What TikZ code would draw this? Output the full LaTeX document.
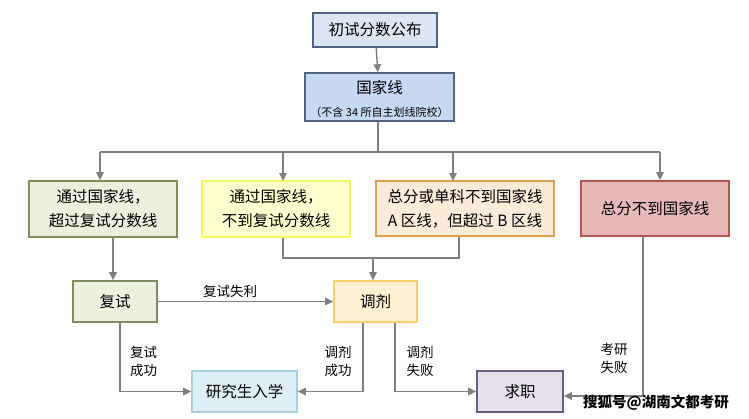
\documentclass[tikz,border=0pt]{standalone}
\usepackage{fontspec}
\setmainfont{Noto Sans CJK SC}
\usetikzlibrary{arrows.meta}
\definecolor{arrowgray}{HTML}{7F7F7F}
\definecolor{blueD}{HTML}{4F6584}
\definecolor{blueF1}{HTML}{DCE6F2}
\definecolor{blueF2}{HTML}{C6D9F1}
\definecolor{greenD}{HTML}{7F8C5C}
\definecolor{greenF}{HTML}{EBF1DE}
\definecolor{yelD}{HTML}{F7F75E}
\definecolor{yelF}{HTML}{FFFFD0}
\definecolor{orD}{HTML}{E0A050}
\definecolor{orF}{HTML}{FDEBDA}
\definecolor{redD}{HTML}{B85450}
\definecolor{redF}{HTML}{E6B9B8}
\definecolor{tjD}{HTML}{F2D06A}
\definecolor{tjF}{HTML}{FDEFD2}
\definecolor{yjD}{HTML}{A9CFDC}
\definecolor{yjF}{HTML}{DDEEF5}
\definecolor{qzD}{HTML}{6A5F80}
\definecolor{qzF}{HTML}{E5E0EC}
\tikzset{
  x=1pt, y=-1pt,
  box/.style={draw, line width=1.6pt, inner sep=0pt, align=center,
    font=\fontsize{15.5}{24}\selectfont},
  arr/.style={draw=arrowgray, line width=1.4pt, -{Triangle[length=8pt,width=7.5pt]}},
  ln/.style={draw=arrowgray, line width=1.4pt},
  lbl/.style={font=\fontsize{13.5}{18}\selectfont, align=center, inner sep=0pt},
}
\begin{document}
\begin{tikzpicture}
\useasboundingbox (0,0) rectangle (749,418);
% boxes
\node[box, draw=blueD, fill=blueF1, minimum width=124pt, minimum height=34pt] (n1) at (375,30) {初试分数公布};
\node[box, draw=blueD, fill=blueF2, minimum width=149pt, minimum height=48pt] (n2) at (379.5,97) {};
\node[lbl, font=\fontsize{15.5}{18}\selectfont] (n2a) at (379.5,88) {国家线};
\node[lbl, font=\fontsize{11}{12}\selectfont] (n2b) at (379.5,112) {（不含 34 所自主划线院校）};
\node[box, draw=greenD, fill=greenF, minimum width=148pt, minimum height=56pt] (g1) at (103,209) {通过国家线，\\超过复试分数线};
\node[box, draw=yelD, fill=yelF, minimum width=148pt, minimum height=56pt] (y1) at (276,209) {通过国家线，\\不到复试分数线};
\node[box, draw=orD, fill=orF, minimum width=178pt, minimum height=55pt] (o1) at (465,208.5) {总分或单科不到国家线\\A 区线，但超过 B 区线};
\node[box, draw=redD, fill=redF, minimum width=148pt, minimum height=55pt] (r1) at (655,208.5) {总分不到国家线};
\node[box, draw=greenD, fill=greenF, minimum width=84pt, minimum height=41pt] (fs) at (115,301.5) {复试};
\node[box, draw=tjD, fill=tjF, minimum width=83pt, minimum height=41pt] (tj) at (375.5,301.5) {调剂};
\node[box, draw=yjD, fill=yjF, minimum width=105pt, minimum height=41pt] (yj) at (244.5,391.5) {研究生入学};
\node[box, draw=qzD, fill=qzF, minimum width=86pt, minimum height=41pt] (qz) at (520,391.5) {求职};
% top connectors
\coordinate (bm) at (378,152);
\coordinate (bl) at (100,152);
\coordinate (br) at (660,152);
\draw[arr] (n1) -- (n2);
\draw[ln] (n2.south -| bm) -- (bm);
\draw[ln] (bl) -- (br);
\draw[arr] (bl) -- (bl |- g1.north);
\draw[arr] (283,152) -- (283,181);
\draw[arr] (453,152) -- (453,181);
\draw[arr] (br) -- (br |- r1.north);
% middle
\coordinate (jl) at (283,258);
\coordinate (jr) at (459,258);
\coordinate (jm) at (373,258);
\draw[arr] ([xshift=10pt]g1.south) -- ([xshift=10pt]g1.south |- fs.north);
\draw[ln] (y1.south -| jl) -- (jl) -- (jr) -- (o1.south -| jr);
\draw[arr] (jm) -- (jm |- tj.north);
\draw[arr] (fs.east) -- (tj.west);
\node[lbl] (l1) at (230,291) {复试失利};
% bottom
\draw[arr] ([xshift=5pt]fs.south) |- (yj.west);
\draw[arr] ([xshift=-12.5pt]tj.south) |- (yj.east);
\draw[arr] ([xshift=19.5pt]tj.south) |- (qz.west);
\draw[arr] ([xshift=-12pt]r1.south) |- ([yshift=-4.5pt]qz.east);
\node[lbl] (l2) at (143.5,361) {复试\\成功};
\node[lbl] (l3) at (338,361) {调剂\\成功};
\node[lbl] (l4) at (420,361) {调剂\\失败};
\node[lbl] (l5) at (614,358) {考研\\失败};
\node[lbl, font=\fontsize{14.5}{16}\selectfont\bfseries] (wm) at (656,403) {搜狐号@湖南文都考研};
\end{tikzpicture}
\end{document}
